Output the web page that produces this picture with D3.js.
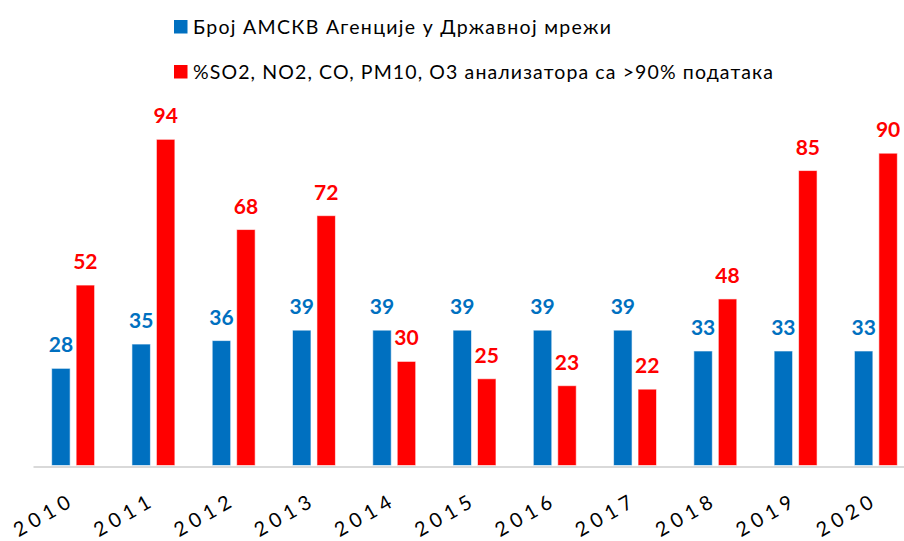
<!DOCTYPE html>
<html>
<head>
<meta charset="utf-8">
<script src="https://cdn.jsdelivr.net/npm/d3@7"></script>
<style>
  body { margin: 0; background: #fff; }
  svg { display: block; font-family: Lato, "Open Sans", sans-serif; }
</style>
</head>
<body>
<div class="chart"></div>
<script>
// data
const years = ['2010', '2011', '2012', '2013', '2014', '2015', '2016', '2017', '2018', '2019', '2020'];
const stations = [28, 35, 36, 39, 39, 39, 39, 39, 33, 33, 33];
const analyzers = [52, 94, 68, 72, 30, 25, 23, 22, 48, 85, 90];
const seriesNames = ['Број АМСКВ Агенције у Државној мрежи', '%SO2, NO2, CO, PM10, O3 анализатора са >90% података'];
const seriesColors = ['#0070C0', '#FF0000'];

const width = 904;
const height = 541;

const rows = years.map((yr, i) => ({ year: yr, values: [stations[i], analyzers[i]] }));

const svg = d3.select('.chart').append('svg')
  .attr('width', width)
  .attr('height', height);

const x0 = d3.scaleBand().domain(years).range([33, 916]).paddingInner(0.465).paddingOuter(0.2325);
const x1 = d3.scaleBand().domain([0, 1]).range([0, x0.bandwidth()]).paddingInner(0.245);
const y = d3.scaleLinear().domain([0, 100]).range([465.5, 118.5]);

// baseline + year labels
const xAxis = svg.append('g')
  .attr('transform', 'translate(0,466.5)')
  .call(d3.axisBottom(x0).tickSize(0));
xAxis.select('.domain').attr('stroke', '#d9d9d9').attr('stroke-width', 2);
xAxis.selectAll('.tick text')
  .attr('y', 0).attr('dy', 0)
  .attr('text-anchor', 'end')
  .attr('transform', 'translate(-1,40) rotate(-30)')
  .attr('font-family', 'Lato, sans-serif')
  .attr('font-size', 20)
  .attr('fill', '#000')
  .attr('textLength', 62)
  .attr('lengthAdjust', 'spacing');

const groups = svg.selectAll('.grp')
  .data(rows)
  .enter().append('g')
  .attr('class', 'grp')
  .attr('transform', d => `translate(${x0(d.year)},0)`);

groups.selectAll('rect')
  .data(d => d.values.map((v, k) => ({ k, v })))
  .enter().append('rect')
  .attr('x', d => x1(d.k))
  .attr('width', x1.bandwidth())
  .attr('y', d => y(d.v))
  .attr('height', d => y(0) - y(d.v))
  .attr('fill', d => seriesColors[d.k])
  .attr('stroke', '#fff')
  .attr('stroke-opacity', 0.6)
  .attr('stroke-width', 1);

groups.selectAll('.lbl')
  .data(d => d.values.map((v, k) => ({ k, v })))
  .enter().append('text')
  .attr('class', 'lbl')
  .attr('x', d => x1(d.k) + x1.bandwidth() / 2)
  .attr('y', d => y(d.v) - 16)
  .attr('text-anchor', 'middle')
  .attr('font-size', 21)
  .attr('font-weight', 'bold')
  .attr('fill', d => seriesColors[d.k])
  .text(d => d.v);

// legend
const legendLens = [418, 580];
const legend = svg.selectAll('.leg')
  .data(seriesNames)
  .enter().append('g')
  .attr('class', 'leg')
  .attr('transform', (d, i) => `translate(174,${20 + i * 45})`);

legend.append('rect')
  .attr('width', 13.5)
  .attr('height', 13.5)
  .attr('fill', (d, i) => seriesColors[i]);

legend.append('text')
  .attr('x', 19)
  .attr('y', 13.5)
  .attr('font-size', 19.5)
  .attr('fill', '#000')
  .attr('textLength', (d, i) => legendLens[i])
  .attr('lengthAdjust', 'spacing')
  .text(d => d);
</script>
</body>
</html>
